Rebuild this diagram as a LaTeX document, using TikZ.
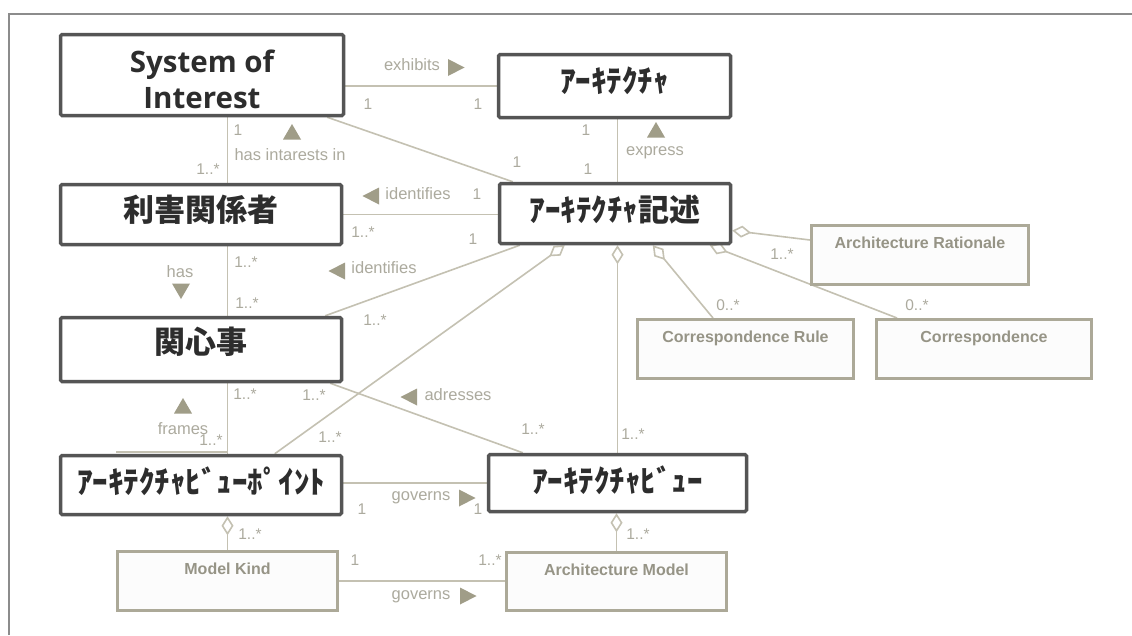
\documentclass[tikz,border=0pt]{standalone}
\usepackage{fontspec}
\setmainfont{Liberation Sans}
\newfontfamily\jpfont{Noto Sans CJK JP}
\newfontfamily\headfont{Open Sans}
\usetikzlibrary{arrows.meta,calc}

\definecolor{framec}{RGB}{140,140,140}
\definecolor{boxdark}{RGB}{85,85,85}
\definecolor{titlec}{RGB}{45,45,45}
\definecolor{boxlight}{RGB}{172,169,152}
\definecolor{boxfill}{RGB}{252,252,252}
\definecolor{smalltextc}{RGB}{150,148,134}
\definecolor{linec}{RGB}{196,193,178}
\definecolor{labelc}{RGB}{172,170,158}
\definecolor{markc}{RGB}{160,157,136}

\pgfdeclarelayer{bg}
\pgfsetlayers{bg,main}

\tikzset{
  bigbox/.style={draw=boxdark, line width=3.5pt, fill=white, rounded corners=1.5pt, inner sep=0pt},
  title/.style={text=titlec, font=\jpfont\bfseries\fontsize{31}{36}\selectfont, inner sep=0pt, anchor=base},
  headtitle/.style={text=titlec, font=\headfont\bfseries\fontsize{29.5}{36}\selectfont, inner sep=0pt, align=center},
  smallbox/.style={draw=boxlight, line width=3pt, fill=boxfill, inner sep=0pt},
  smalltitle/.style={text=smalltextc, font=\bfseries\fontsize{16}{19}\selectfont, inner sep=0pt, anchor=base},
  conn/.style={draw=linec, line width=1.6pt},
  aggr/.style={conn, {Diamond[fill=white, length=19pt, width=12pt]}-},
  lbl/.style={text=labelc, font=\fontsize{16.5}{19}\selectfont, inner sep=0pt, anchor=mid},
  mult/.style={text=labelc, font=\fontsize{15.5}{18}\selectfont, inner sep=0pt, anchor=mid},
  dirmark/.style={fill=markc},
}

\begin{document}
\begin{tikzpicture}[x=1pt,y=-1pt]
\useasboundingbox (0,0) rectangle (1132,635);
\begin{pgfonlayer}{bg}
\fill[white] (0,0) rectangle (1132,635);
\end{pgfonlayer}
% outer frame (top and left edges only)
\draw[framec, line width=2pt] (9,635) -- (9,14) -- (1132,14);

% main classes
\node[bigbox, minimum width=283pt, minimum height=81pt] (soi) at (202,75) {};
\node[bigbox, minimum width=232pt, minimum height=63pt] (arch) at (614.5,86) {};
\node[bigbox, minimum width=231pt, minimum height=60pt] (desc) at (615,213.5) {};
\node[bigbox, minimum width=281pt, minimum height=60pt] (stake) at (201,214.5) {};
\node[bigbox, minimum width=281pt, minimum height=64pt] (concern) at (201,349.5) {};
\node[bigbox, minimum width=281pt, minimum height=59pt] (vp) at (201,485) {};
\node[bigbox, minimum width=258pt, minimum height=57pt] (view) at (617.5,483) {};

% secondary classes
\node[smallbox, minimum width=217pt, minimum height=59pt] (rat) at (920,255) {};
\node[smallbox, minimum width=216pt, minimum height=59pt] (crule) at (745.5,349) {};
\node[smallbox, minimum width=215pt, minimum height=59pt] (corr) at (984,349) {};
\node[smallbox, minimum width=220pt, minimum height=59pt] (mk) at (227.5,581) {};
\node[smallbox, minimum width=220pt, minimum height=58pt] (am) at (616.5,581.5) {};

% class names
\node[headtitle] (soiT) at ([yshift=-4.5pt]soi.center) {System of\\Interest};
\node[title] (archT) at ([yshift=-6pt]arch.center) {ｱｰｷﾃｸﾁｬ};
\node[title] (descT) at ([yshift=-7.5pt]desc.center) {ｱｰｷﾃｸﾁｬ記述};
\node[title] (stakeT) at ([yshift=-6.5pt]stake.center) {利害関係者};
\node[title] (concernT) at ([yshift=-3.5pt]concern.center) {関心事};
\node[title] (vpT) at ([yshift=-8pt]vp.center) {ｱｰｷﾃｸﾁｬﾋﾞｭｰﾎﾟｲﾝﾄ};
\node[title] (viewT) at ([yshift=-9pt]view.center) {ｱｰｷﾃｸﾁｬﾋﾞｭｰ};

\node[smalltitle] (ratT) at ([yshift=-24pt]rat.north) {Architecture Rationale};
\node[smalltitle] (cruleT) at ([yshift=-24pt]crule.north) {Correspondence Rule};
\node[smalltitle] (corrT) at ([yshift=-24pt]corr.north) {Correspondence};
\node[smalltitle] (mkT) at ([yshift=-24pt]mk.north) {Model Kind};
\node[smalltitle] (amT) at ([yshift=-24pt]am.north) {Architecture Model};

% associations and aggregations, kept behind the class boxes
\begin{pgfonlayer}{bg}
\draw[conn] (soi.east |- arch.west) -- (arch.west);
\draw[conn] ([xshift=-18pt]soi.south east) -- ([xshift=15pt]desc.north west);
\draw[conn] (arch.south -| view.north) -- (desc.north -| view.north);
\draw[conn] (soi.south -| mk.north) -- (stake.north -| mk.north);
\draw[conn] (stake.east) -- (stake.east -| desc.west);
\draw[conn] ([xshift=-18pt]concern.north east) -- ([xshift=22pt]desc.south west);
\draw[conn] (stake.south -| mk.north) -- (concern.north -| mk.north);
\draw[conn] (concern.south -| mk.north) -- (vp.north -| mk.north);
\draw[conn] ($(vp.north -| mk.north west)+(0,-2)$) -- ($(vp.north -| mk.north)+(0,-2)$);
\draw[aggr] ([xshift=67pt]desc.south west) -- ([xshift=216pt]vp.north west);
\draw[conn] ([xshift=-13pt]concern.south east) -- ([xshift=36pt]view.north west);
\draw[aggr] (desc.south -| view.north) -- (view.north);
\draw[conn] (vp.east |- view.west) -- (view.west);
\draw[aggr] (vp.south -| mk.north) -- (mk.north);
\draw[aggr] (view.south -| am.north) -- (am.north);
\draw[conn] (mk.east) -- (mk.east -| am.west);
\draw[aggr] ([yshift=-17pt]desc.east) -- ([yshift=15pt]rat.west);
\draw[aggr] ([xshift=155pt]desc.south west) -- ([xshift=77pt]crule.north west);
\draw[aggr] ([xshift=212pt]desc.south west) -- ([xshift=22pt]corr.north west);
\end{pgfonlayer}

% reading-direction triangles
\fill[dirmark, shift={(456,67.5)}] (-8,-8.5) -- (8.5,0) -- (-8,8.5) -- cycle;
\fill[dirmark, shift={(656,130)}] (-9,7.5) -- (0,-8) -- (9,7.5) -- cycle;
\fill[dirmark, shift={(292,132)}] (-9,7.5) -- (0,-8) -- (9,7.5) -- cycle;
\fill[dirmark, shift={(371,196)}] (-8.5,0) -- (8,-8.5) -- (8,8.5) -- cycle;
\fill[dirmark, shift={(337,271)}] (-8.5,0) -- (8,-8.5) -- (8,8.5) -- cycle;
\fill[dirmark, shift={(181,291)}] (-9,-7.5) -- (9,-7.5) -- (0,8) -- cycle;
\fill[dirmark, shift={(183,406)}] (-9,7.5) -- (0,-8) -- (9,7.5) -- cycle;
\fill[dirmark, shift={(409,397)}] (-8.5,0) -- (8,-8.5) -- (8,8.5) -- cycle;
\fill[dirmark, shift={(467,498)}] (-8,-8.5) -- (8.5,0) -- (-8,8.5) -- cycle;
\fill[dirmark, shift={(468,596)}] (-8,-8.5) -- (8.5,0) -- (-8,8.5) -- cycle;

% association names
\node[lbl] (lExhibits) at (412,68) {exhibits};
\node[lbl] (lExpress) at (655,153) {express};
\node[lbl] (lHasInt) at (290,158) {has intarests in};
\node[lbl] (lIdent1) at (418,197) {identifies};
\node[lbl] (lIdent2) at (384,271) {identifies};
\node[lbl] (lHas) at (180,275) {has};
\node[lbl] (lFrames) at (183,432) {frames};
\node[lbl] (lAdr) at (458,398) {adresses};
\node[lbl] (lGov1) at (421,498) {governs};
\node[lbl] (lGov2) at (421,597) {governs};

% multiplicities
\foreach \x/\y/\t [count=\i] in {
  368/107/1, 478/107/1, 586/133/1, 588/172/1, 517/165/1,
  238/133/1, 208/172/1..*, 477/197/1, 363/235/1..*, 473/242/1,
  375/323/1..*, 246/265/1..*, 247/306/1..*, 245/397/1..*, 211/443/1..*,
  314/398/1..*, 330/440/1..*, 533/432/1..*, 633/437/1..*, 362/512/1,
  478/512/1, 250/537/1..*, 638/537/1..*, 355/563/1, 490/563/1..*,
  782/257/1..*, 728/308/0..*, 917/308/0..*}
  \node[mult] (m\i) at (\x,\y) {\t};
\end{tikzpicture}
\end{document}
